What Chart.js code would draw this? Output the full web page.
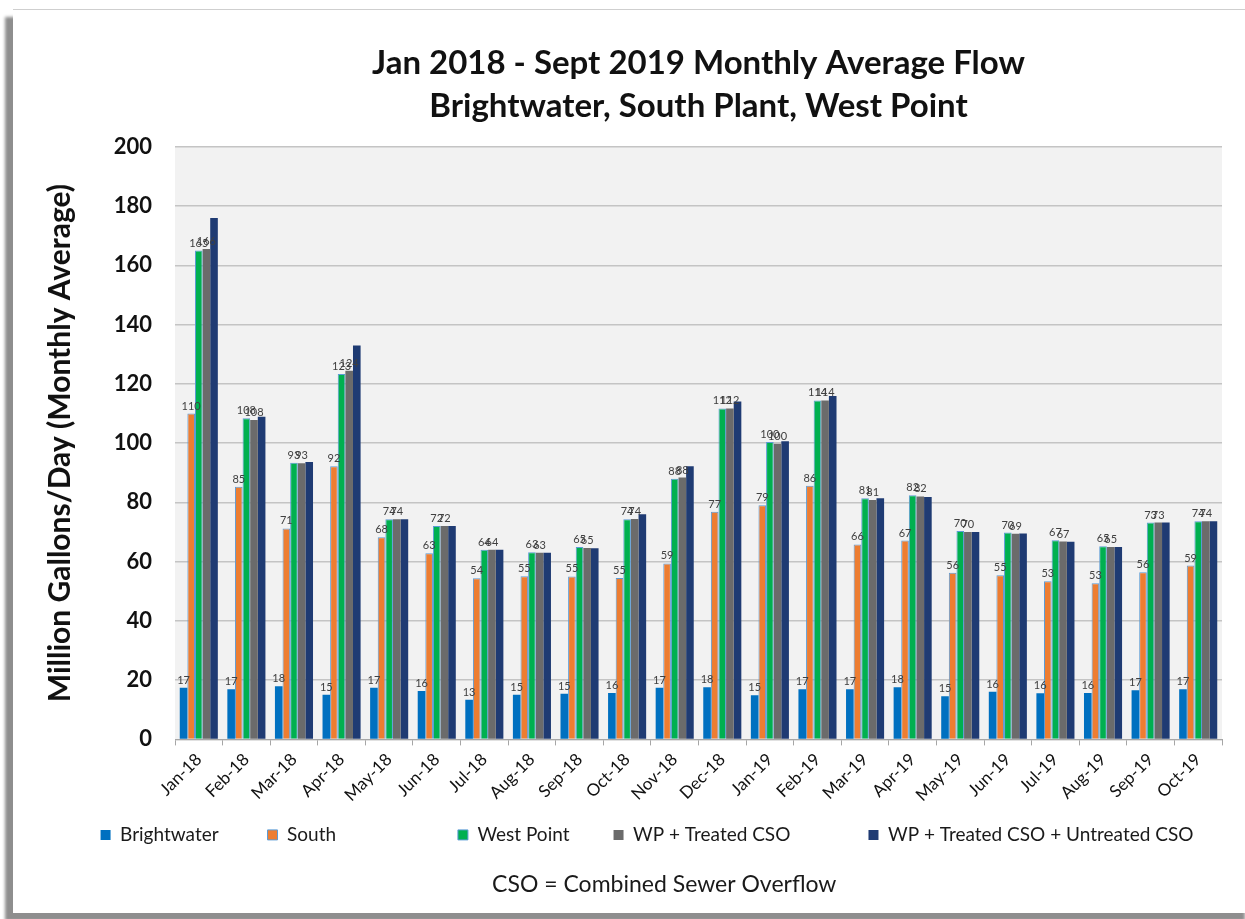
<!DOCTYPE html>
<html>
<head>
<meta charset="utf-8">
<script src="https://cdn.jsdelivr.net/npm/chart.js@4.4.1/dist/chart.umd.min.js"></script>
<style>
  html, body { margin: 0; padding: 0; background: #ffffff; }
  body { width: 1245px; height: 919px; position: relative; overflow: hidden; }
  #frame { position: absolute; left: 13px; top: 9px; width: 1240px; height: 903px; background: #ffffff;
           border-top: 1px solid #cfcfcf; box-shadow: -8px 8px 3px #8e8e8e; }
  #wrap { position: absolute; left: 0; top: 0; width: 1245px; height: 919px; }
</style>
</head>
<body>
<div id="frame"></div>
<div id="wrap"><canvas id="c" width="1245" height="919"></canvas></div>
<script>
const categories = ["Jan-18","Feb-18","Mar-18","Apr-18","May-18","Jun-18","Jul-18","Aug-18","Sep-18","Oct-18","Nov-18","Dec-18",
                    "Jan-19","Feb-19","Mar-19","Apr-19","May-19","Jun-19","Jul-19","Aug-19","Sep-19","Oct-19"];
const brightwater = [17.4,16.9,17.9,15.1,17.4,16.3,13.4,15.1,15.4,15.7,17.4,17.6,14.9,16.9,16.9,17.6,14.6,16.1,15.6,15.7,16.6,16.9];
const south       = [110,85.3,71.2,92.2,68.2,62.8,54.4,55.1,55.0,54.5,59.4,76.8,79.0,85.6,65.8,67.1,56.2,55.4,53.4,52.7,56.4,58.7];
const westPoint   = [165.0,108.4,93.4,123.3,74.3,72.0,64.0,63.2,64.9,74.3,88.0,111.7,100.4,114.4,81.4,82.4,70.3,69.8,67.2,65.2,73.2,73.6];
const wpTreated   = [165.5,107.8,93.2,124.4,74.3,72.0,64.0,63.0,64.6,74.4,88.4,111.7,99.8,114.4,80.8,82.0,70.0,69.4,66.8,64.9,73.2,73.6];
const wpTreatedUntreated = [176.0,108.9,93.6,132.9,74.3,72.0,64.0,63.0,64.5,76.0,92.2,114.0,100.6,115.9,81.4,81.8,70.0,69.5,66.7,64.9,73.2,73.6];
const yTicks = [0,20,40,60,80,100,120,140,160,180,200];
const seriesNames = ["Brightwater","South","West Point","WP + Treated CSO","WP + Treated CSO + Untreated CSO"];

const FONT = "Lato, 'Open Sans', sans-serif";
const LEGEND_SIZE = 19;
const legendTextTargets = [138, 160, 128, 225, 0];

const plotBg = {
  id: 'plotBg',
  beforeDraw(chart) {
    const {ctx, chartArea: a} = chart;
    ctx.save();
    ctx.fillStyle = '#f2f2f2';
    ctx.fillRect(a.left, a.top, a.right - a.left, a.bottom - a.top);
    ctx.restore();
  }
};

const barLabels = {
  id: 'barLabels',
  afterDatasetsDraw(chart) {
    const ctx = chart.ctx;
    ctx.save();
    ctx.font = "11px " + FONT;
    ctx.fillStyle = '#404040';
    ctx.textAlign = 'center';
    ctx.textBaseline = 'bottom';
    for (let d = 0; d < 4; d++) {
      const meta = chart.getDatasetMeta(d);
      const data = chart.data.datasets[d].data;
      meta.data.forEach((bar, i) => {
        ctx.fillText(String(Math.round(data[i])), bar.x, bar.y - 2);
      });
    }
    ctx.restore();
  }
};

function legendLabels(chart) {
  const items = Chart.defaults.plugins.legend.labels.generateLabels(chart);
  const ctx = chart.ctx;
  ctx.save();
  ctx.font = LEGEND_SIZE + "px " + FONT;
  items.forEach((it, i) => {
    const target = legendTextTargets[i];
    let t = it.text;
    while (target && ctx.measureText(t + ' ').width <= target + 2) t += ' ';
    it.text = t;
  });
  ctx.restore();
  return items;
}

new Chart(document.getElementById('c'), {
  type: 'bar',
  data: {
    labels: categories,
    datasets: [
      { label: seriesNames[0], data: brightwater, backgroundColor: '#0070c0', borderColor: '#0070c0', borderWidth: 0 },
      { label: seriesNames[1], data: south, backgroundColor: '#ed7d31', borderColor: '#5b9bd5', borderWidth: 1 },
      { label: seriesNames[2], data: westPoint, backgroundColor: '#00b050', borderColor: '#5b9bd5', borderWidth: 1 },
      { label: seriesNames[3], data: wpTreated, backgroundColor: '#6b6b6b', borderColor: '#6b6b6b', borderWidth: 0 },
      { label: seriesNames[4], data: wpTreatedUntreated, backgroundColor: '#1f3b73', borderColor: '#1f3b73', borderWidth: 0 }
    ]
  },
  options: {
    responsive: false,
    animation: false,
    devicePixelRatio: 1,
    layout: { padding: { left: 72, right: 23, top: 0, bottom: 16 } },
    datasets: { bar: { categoryPercentage: 0.8, barPercentage: 1.0 } },
    scales: {
      x: {
        offset: true,
        grid: { display: true, offset: true, drawOnChartArea: false, drawTicks: true, tickLength: 6, color: '#a6a6a6' },
        border: { display: true, color: '#a6a6a6', width: 1 },
        ticks: { autoSkip: false, maxRotation: 45, minRotation: 45, padding: 4, color: '#111111',
                 font: { family: FONT, size: 17 } },
        afterFit(s) { s.height = 76; }
      },
      y: {
        min: 0, max: 200,
        afterBuildTicks(s) { s.ticks = yTicks.map(v => ({ value: v })); },
        grid: { color: '#c4c4c4', lineWidth: 1.5, drawTicks: false },
        border: { display: false },
        ticks: { padding: 23, color: '#111111', font: { family: FONT, size: 22, weight: 'bold' } },
        title: { display: true, text: 'Million Gallons/Day (Monthly Average)', color: '#111111',
                 font: { family: FONT, size: 30, weight: 'bold', lineHeight: 1.2 }, padding: { top: -30, bottom: 0 } },
        afterFit(s) { s.width = 103; }
      }
    },
    plugins: {
      title: {
        display: true, fullSize: false,
        text: ['Jan 2018 - Sept 2019 Monthly Average Flow', 'Brightwater, South Plant, West Point'],
        color: '#111111',
        font: { family: FONT, size: 33, weight: 'bold', lineHeight: 1.33 },
        padding: { top: 41, bottom: 18 }
      },
      subtitle: {
        display: true, position: 'bottom',
        text: '\u2002\u2002\u2002CSO = Combined Sewer Overflow',
        color: '#1a1a1a',
        font: { family: FONT, size: 23, lineHeight: 1.2 },
        padding: { top: 16, bottom: 5 }
      },
      legend: {
        display: true, position: 'bottom',
        labels: { boxWidth: 10, boxHeight: 10, padding: 10, color: '#1a1a1a',
                  font: { family: FONT, size: LEGEND_SIZE }, generateLabels: legendLabels }
      },
      tooltip: { enabled: false }
    }
  },
  plugins: [plotBg, barLabels]
});
</script>
</body>
</html>
